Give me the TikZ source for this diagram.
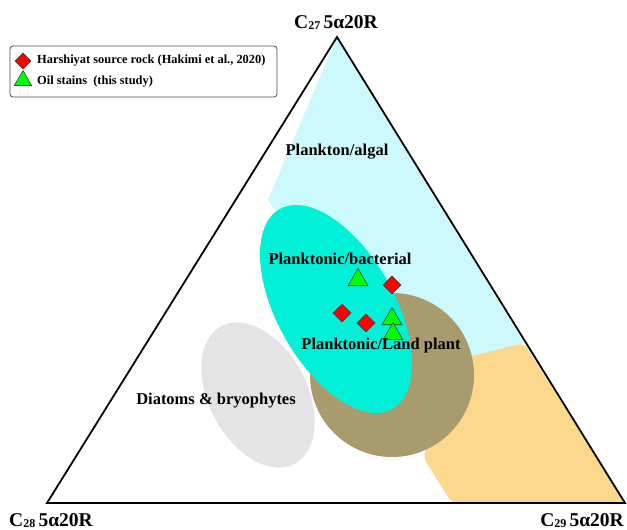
\documentclass[tikz,border=0pt]{standalone}
\usepackage{fontspec}
\setmainfont{Liberation Serif}
\usetikzlibrary{shapes.geometric}
\definecolor{planktoncol}{RGB}{204,250,252}
\definecolor{tealcol}{RGB}{0,240,216}
\definecolor{browncol}{RGB}{168,155,110}
\definecolor{orangecol}{RGB}{252,216,140}
\definecolor{graycol}{RGB}{228,228,228}
\definecolor{redmark}{RGB}{255,0,0}
\definecolor{greenmark}{RGB}{0,255,0}
\newcommand{\steranelabel}[1]{C\raisebox{-0.2ex}{\fontsize{12}{12}\selectfont #1}\,5α20R}
\begin{document}
\begin{tikzpicture}[x=1pt,y=1pt,
  rockmark/.style={diamond, draw=black!75, fill=redmark, line width=0.6pt, inner sep=0pt, minimum size=18pt},
  oilmark/.style={regular polygon, regular polygon sides=3, draw=black!75, fill=greenmark, line width=0.6pt, inner sep=0pt, minimum size=23pt},
  regionlabel/.style={font=\bfseries\fontsize{16.5}{18}\selectfont, inner sep=0pt},
  vertexlabel/.style={font=\bfseries\fontsize{19.5}{22}\selectfont, inner sep=0pt},
  legendtext/.style={font=\bfseries\fontsize{12.4}{14}\selectfont, inner sep=0pt, anchor=west}]
\useasboundingbox (0,0) rectangle (627,-530);
\fill[white] (0,0) rectangle (627,-530);
% vertices
\coordinate (top) at (337,-37);
\coordinate (left) at (47,-503);
\coordinate (right) at (625,-503);
% plankton/algal region
\fill[planktoncol] (top) -- (268,-200) -- (276,-212) -- (300,-250) -- (350,-330) -- (420,-362) -- (472,-357) -- (524,-343) -- cycle;
% land plant (orange) region
\fill[orangecol, rounded corners=6pt] (452,-503) -- (423,-457) -- (430,-440) -- (460,-359) -- (524,-343) -- (right) -- cycle;
% diatoms
\fill[graycol, rotate around={-62:(258,-395)}] (258,-395) ellipse [x radius=78pt, y radius=49pt];
% planktonic/land plant
\fill[browncol] (392,-375) circle [radius=82pt];
% planktonic/bacterial
\fill[tealcol, rotate around={-60.6:(336,-309)}] (336,-309) ellipse [x radius=114.7pt, y radius=58.6pt];
% triangle outline
\draw[line width=1.8pt, line join=miter] (top) -- (left) -- (right) -- cycle;
% data points
\node[oilmark] (o1) at (358,-280) {};
\node[rockmark] (r1) at (392,-285) {};
\node[rockmark] (r2) at (342,-313) {};
\node[rockmark] (r3) at (366,-323) {};
\node[oilmark] (o2) at (392,-319) {};
\node[oilmark] (o3) at (393,-334) {};
% region labels
\node[regionlabel] (lalgal) at (337,-152) {Plankton/algal};
\node[regionlabel] (lbact) at (340,-259) {Planktonic/bacterial};
\node[regionlabel] (lland) at (381,-346) {Planktonic/Land plant};
\node[regionlabel] (ldiat) at (216,-401) {Diatoms \& bryophytes};
% vertex labels
\node[vertexlabel, anchor=base] (c27) at (336,-28) {\steranelabel{27}};
\node[vertexlabel, anchor=base west] (c28) at (9,-526) {\steranelabel{28}};
\node[vertexlabel, anchor=base east] (c29) at (624,-526) {\steranelabel{29}};
% legend
\node[draw=black!70, line width=0.8pt, rounded corners=3pt, minimum width=267pt, minimum height=51pt, inner sep=0pt] (legend) at (143.5,-71.5) {};
\node[rockmark, minimum size=16pt] (legrock) at (23,-61) {};
\node[oilmark, minimum size=20pt] (legoil) at (23,-80.5) {};
\node[legendtext] (legrocktext) at (37,-61) {Harshiyat source rock (Hakimi et al., 2020)};
\node[legendtext] (legoiltext) at (37,-82) {Oil stains\ \ (this study)};
\end{tikzpicture}
\end{document}
